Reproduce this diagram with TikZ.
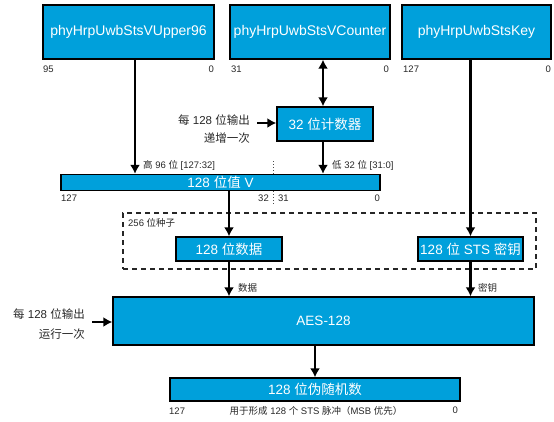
\documentclass[tikz,border=0pt]{standalone}
\usepackage{fontspec}
\setmainfont{Liberation Sans}
\newfontfamily\zhf{Noto Sans CJK SC}
\newcommand\zh[1]{{\zhf #1}}
\usetikzlibrary{arrows.meta}
\definecolor{boxblue}{RGB}{0,160,219}
\definecolor{lbltext}{RGB}{40,40,40}
\begin{document}
\begin{tikzpicture}[x=1pt,y=-1pt,
  bbox/.style={draw=black, line width=1.4pt, fill=boxblue, text=white, inner sep=0pt,
    font=\fontsize{13.5}{16}\selectfont},
  topbox/.style={bbox, minimum height=54pt, font=\fontsize{14}{16}\selectfont},
  lbl/.style={inner sep=0pt, text=lbltext, font=\fontsize{9.5}{11}\selectfont},
  sidelbl/.style={inner sep=0pt, text=lbltext, font=\fontsize{11.5}{13}\selectfont},
  arr/.style={line width=2.3pt, -{Latex[length=9pt,width=10pt]}},
  darr/.style={line width=2.3pt, {Latex[length=9pt,width=10pt]}-{Latex[length=9pt,width=10pt]}},
  ]
\useasboundingbox (0,0) rectangle (554,421);
\fill[white] (0,0) rectangle (554,421);

% top boxes
\node[topbox, minimum width=171pt] (up) at (128.5,32) {phyHrpUwbStsVUpper96};
\node[topbox, minimum width=160pt] (ctr) at (310,32) {phyHrpUwbStsVCounter};
\node[topbox, minimum width=149pt] (key) at (476.5,32) {phyHrpUwbStsKey};

\node[lbl, anchor=west] (u95) at (43,69) {95};
\node[lbl, anchor=east] (u0) at (214,69) {0};
\node[lbl, anchor=west] (c31) at (231,69) {31};
\node[lbl, anchor=east] (c0) at (389,69) {0};
\node[lbl, anchor=west] (k127) at (403,69) {127};
\node[lbl, anchor=east] (k0) at (551,69) {0};

% counter
\node[bbox, minimum width=96pt, minimum height=34pt] (cnt) at (325,124) {32 \zh{位计数器}};
\node[sidelbl, anchor=east] (cl1) at (250,120) {\zh{每} 128 \zh{位输出}};
\node[sidelbl, anchor=east] (cl2) at (250,138) {\zh{递增一次}};
\coordinate (s1) at (257,123);
\draw[arr] (s1) -- (cnt.west |- s1);

% dotted split line
\draw[dotted, line width=1pt, black!70] (273,161) -- (273,205);

% V bar
\node[bbox, minimum width=319pt, minimum height=16pt] (vbar) at (220.5,182.5) {128 \zh{位值} V};
\node[lbl, anchor=west] (v127) at (61,198) {127};
\node[lbl, anchor=east] (v32) at (269,198) {32};
\node[lbl, anchor=west] (v31) at (278,198) {31};
\node[lbl, anchor=east] (v0) at (380,198) {0};

\coordinate (x1) at (135,0);
\coordinate (x2) at (323,0);
\draw[arr] (up.south -| x1) -- (vbar.north -| x1);
\draw[darr] (ctr.south -| x2) -- (cnt.north -| x2);
\draw[arr] (cnt.south -| x2) -- (vbar.north -| x2);
\node[lbl, anchor=west] (hi) at (143,165) {\zh{高} 96 \zh{位} [127:32]};
\node[lbl, anchor=west] (lo) at (332,165) {\zh{低} 32 \zh{位} [31:0]};

% seed
\node[draw=black!85, dashed, dash pattern=on 5pt off 4pt, line width=1.2pt,
  minimum width=413pt, minimum height=56pt, inner sep=0pt] (seed) at (329.5,241) {};
\node[lbl, anchor=west] (seedl) at (128,223) {256 \zh{位种子}};
\node[bbox, minimum width=106pt, minimum height=24pt] (dat) at (229,249) {128 \zh{位数据}};
\node[bbox, minimum width=105pt, minimum height=24pt] (kb) at (470.5,249) {128 \zh{位} STS \zh{密钥}};

\draw[arr] (vbar.south -| dat.north) -- (dat.north);
\draw[arr] (key.south -| kb.north) -- (kb.north);

% AES
\node[bbox, minimum width=421pt, minimum height=48pt] (aes) at (323.5,321) {AES-128};
\draw[arr] (dat.south) -- (dat.south |- aes.north);
\draw[arr] (kb.south) -- (kb.south |- aes.north);
\node[lbl, anchor=west] (dl) at (238,288) {\zh{数据}};
\node[lbl, anchor=west] (kl) at (478,288) {\zh{密钥}};

\node[sidelbl, anchor=east] (al1) at (85,314) {\zh{每} 128 \zh{位输出}};
\node[sidelbl, anchor=east] (al2) at (85,334) {\zh{运行一次}};
\coordinate (s2) at (92,322);
\draw[arr] (s2) -- (aes.west |- s2);

% PRN
\node[bbox, minimum width=290pt, minimum height=23pt] (prn) at (315,389.5) {128 \zh{位伪随机数}};
\draw[arr] (aes.south -| prn.north) -- (prn.north);
\node[lbl, anchor=west] (p127) at (169,411) {127};
\node[lbl, anchor=east] (p0) at (458,410) {0};
\node[lbl] (pl) at (316,411) {\zh{用于形成} 128 \zh{个} STS \zh{脉冲（}MSB \zh{优先）}};
\end{tikzpicture}
\end{document}
